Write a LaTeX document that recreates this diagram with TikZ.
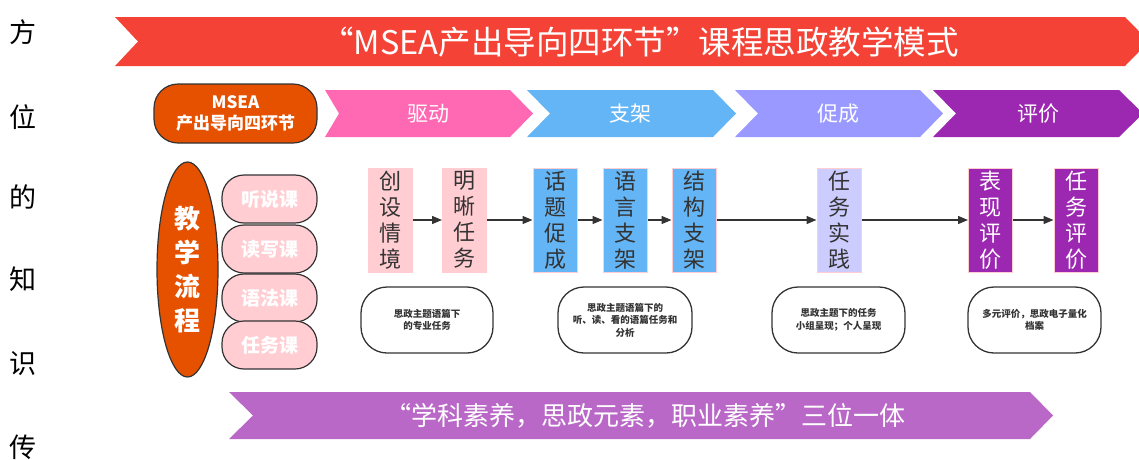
\documentclass[tikz,border=0pt]{standalone}
\usepackage{fontspec}
\setmainfont{Noto Sans CJK SC}
\usetikzlibrary{arrows.meta,shapes.geometric}
\definecolor{bannerred}{HTML}{F44336}
\definecolor{chpink}{HTML}{FF69B4}
\definecolor{chblue}{HTML}{64B5F6}
\definecolor{chlav}{HTML}{9999FF}
\definecolor{chpurple}{HTML}{9C27B0}
\definecolor{bottompurple}{HTML}{BA68C8}
\definecolor{darkorange}{HTML}{E65100}
\definecolor{lightpink}{HTML}{FFCDD2}
\definecolor{lightlav}{HTML}{CCCCFF}
\definecolor{darkline}{HTML}{333333}
\tikzset{
  fs/.style={font=\fontsize{#1}{#1}\selectfont},
  sidechar/.style={fs=27, text=black, inner sep=0pt},
  bannertext/.style={text=white, inner sep=0pt},
  pill/.style={draw=darkline, line width=1.2pt, fill=lightpink, rounded corners=22pt,
    minimum width=95pt, minimum height=48pt, inner sep=0pt, text=white, font=\fontsize{19}{19}\selectfont\bfseries},
  vbox/.style={minimum width=44pt, minimum height=104pt, inner sep=0pt, align=center,
    font=\fontsize{22}{26}\selectfont, draw=lightpink, line width=1pt},
  notebox/.style={draw=darkline, line width=1.3pt, fill=white, rounded corners=26pt,
    minimum height=66pt, inner sep=0pt, align=center, text=darkline,
    font=\fontsize{9.5}{12.5}\selectfont\bfseries},
  flow/.style={draw=darkline, line width=1.3pt, -{Triangle[length=10pt,width=8pt]}},
}
\begin{document}
\begin{tikzpicture}[x=1pt,y=-1pt]
\useasboundingbox (0,0) rectangle (1139,459);
\clip (0,0) rectangle (1139,459);
% left column characters
\node[sidechar] (s1) at (23,32) {方};
\node[sidechar] (s2) at (23,117) {位};
\node[sidechar] (s3) at (23,197) {的};
\node[sidechar] (s4) at (23,279) {知};
\node[sidechar] (s5) at (23,364) {识};
\node[sidechar] (s6) at (23,447) {传};
% top banner
\fill[bannerred] (115,17) -- (1125,17) -- (1149,41.5) -- (1125,66) -- (115,66) -- (138,41.5) -- cycle;
\node[bannertext, fs=32.5] (title) at (640,42) {“MSEA产出导向四环节”课程思政教学模式};
% MSEA box
\node[draw=darkline, line width=1.2pt, fill=darkorange, rounded corners=24pt, minimum width=163pt,
  minimum height=59pt, inner sep=0pt, align=center, text=white,
  font=\fontsize{17}{21}\selectfont\bfseries] (msea) at (235.5,113.5) {MSEA\\产出导向四环节};
% chevrons
\fill[chpink] (325,90) -- (510,90) -- (533,113.5) -- (510,137) -- (325,137) -- (339,113.5) -- cycle;
\fill[chblue] (527,90) -- (713,90) -- (736,113.5) -- (713,137) -- (527,137) -- (550,113.5) -- cycle;
\fill[chlav] (735,90) -- (920,90) -- (943,113.5) -- (920,137) -- (735,137) -- (758,113.5) -- cycle;
\fill[chpurple] (933,90) -- (1119,90) -- (1143,113.5) -- (1119,137) -- (933,137) -- (956,113.5) -- cycle;
\node[bannertext, fs=21] (c1) at (428,114) {驱动};
\node[bannertext, fs=21] (c2) at (630,114) {支架};
\node[bannertext, fs=21] (c3) at (838,114) {促成};
\node[bannertext, fs=21] (c4) at (1038,114) {评价};
% teaching process ellipse
\node[ellipse, draw=darkline, line width=1.2pt, fill=darkorange, minimum width=61pt, minimum height=215pt,
  inner sep=0pt, align=center, text=white, font=\fontsize{26}{34}\selectfont\bfseries] (proc) at (187.5,269.5) {教\\学\\流\\程};
% pills
\node[pill] (p1) at (269.5,199) {听说课};
\node[pill] (p2) at (269.5,249) {读写课};
\node[pill] (p3) at (269.5,298) {语法课};
\node[pill] (p4) at (269.5,345) {任务课};
% vertical boxes
\node[vbox, fill=lightpink, text=darkline] (b1) at (390.5,220) {创\\设\\情\\境};
\node[vbox, fill=lightpink, text=darkline] (b2) at (464.5,220) {明\\晰\\任\\务};
\node[vbox, fill=chblue, text=darkline] (b3) at (555,220) {话\\题\\促\\成};
\node[vbox, fill=chblue, text=darkline] (b4) at (625,220) {语\\言\\支\\架};
\node[vbox, fill=chblue, text=darkline] (b5) at (694,220) {结\\构\\支\\架};
\node[vbox, fill=lightlav, text=darkline] (b6) at (839,220) {任\\务\\实\\践};
\node[vbox, fill=chpurple, text=white] (b7) at (990.5,220) {表\\现\\评\\价};
\node[vbox, fill=chpurple, text=white] (b8) at (1076,220) {任\\务\\评\\价};
\draw[flow] (b1) -- (b2);
\draw[flow] (b2) -- (b3);
\draw[flow] (b3) -- (b4);
\draw[flow] (b4) -- (b5);
\draw[flow] (b5) -- (b6);
\draw[flow] (b6) -- (b7);
\draw[flow] (b7) -- (b8);
% note boxes
\node[notebox, minimum width=132pt] (n1) at (427,320) {思政主题语篇下\\的专业任务};
\node[notebox, minimum width=134pt] (n2) at (625,320) {思政主题语篇下的\\听、读、看的语篇任务和\\分析};
\node[notebox, minimum width=133pt] (n3) at (838.5,320) {思政主题下的任务\\小组呈现；个人呈现};
\node[notebox, minimum width=133pt] (n4) at (1034.5,320) {多元评价，思政电子量化\\档案};
% bottom banner
\fill[bottompurple] (229,392) -- (1030,392) -- (1053,415.5) -- (1030,439) -- (229,439) -- (253,415.5) -- cycle;
\node[bannertext, fs=26] (bottom) at (645,416) {“学科素养，思政元素，职业素养”三位一体};
\end{tikzpicture}
\end{document}
